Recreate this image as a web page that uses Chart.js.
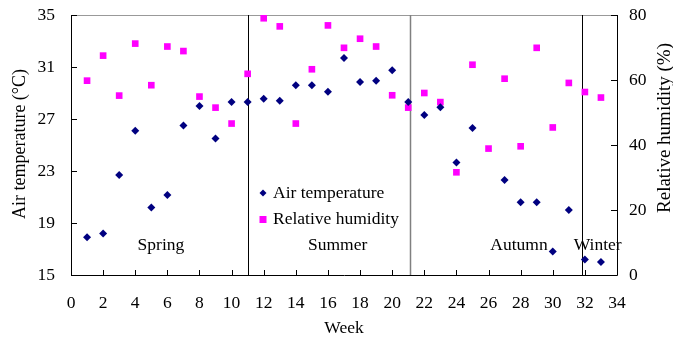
<!DOCTYPE html>
<html>
<head>
<meta charset="utf-8">
<script src="https://cdn.jsdelivr.net/npm/chart.js@4.4.1/dist/chart.umd.min.js"></script>
<style>
  html, body { margin: 0; padding: 0; background: #fff; }
  #chart { display: block; }
</style>
</head>
<body>
<canvas id="chart" width="673" height="338"></canvas>
<script>
// Weekly means, weeks 1..33
const weeks = [1,2,3,4,5,6,7,8,9,10,11,12,13,14,15,16,17,18,19,20,21,22,23,24,25,26,27,28,29,30,31,32,33];
const airTemp = [17.9,18.2,22.7,26.1,20.2,21.15,26.5,28.0,25.5,28.3,28.3,28.55,28.4,29.6,29.6,29.1,31.7,29.85,29.95,30.75,28.3,27.3,27.9,23.65,26.3,null,22.3,20.6,20.6,16.8,20.0,16.2,16.0];
const humidity = [59.8,67.5,55.2,71.2,58.4,70.3,68.9,54.9,51.5,46.6,61.9,79.0,76.5,46.6,63.3,76.8,69.9,72.7,70.3,55.3,51.5,56.0,53.2,31.6,64.7,38.9,60.4,39.6,69.9,45.4,59.1,56.3,54.6];

// Season boundaries (week) and label anchors
const seasonLines = [11, 21.1, 31.85];
const seasonLineColors = ['#000', '#808080', '#000'];
const seasonNames = ['Spring', 'Summer', 'Autumn', 'Winter'];
const seasonLabelWeeks = [5.6, 16.6, 27.9, 32.8];
const seasonLabelTemp = 17.3;

const SERIF = '"Liberation Serif", "Times New Roman", serif';
const FONT = '17.5px ' + SERIF;
const NAVY = '#000080', MAGENTA = '#FF00FF';

function diamond(ctx, x, y, r) {
  ctx.beginPath();
  ctx.moveTo(x, y - r); ctx.lineTo(x + r, y); ctx.lineTo(x, y + r); ctx.lineTo(x - r, y);
  ctx.closePath(); ctx.fill();
}

// fixed box sizes so the plot area lands where it should
function fixBox(size) {
  return s => {
    if (s.isHorizontal()) s.height = size; else s.width = size;
    s.paddingTop = s.paddingBottom = s.paddingLeft = s.paddingRight = 0;
  };
}

function vText(ctx, text, x, y, font) {
  ctx.save();
  ctx.font = font;
  ctx.translate(x, y);
  ctx.rotate(-Math.PI / 2);
  ctx.fillText(text, 0, 0);
  ctx.restore();
}

const decor = {
  id: 'decor',
  beforeDatasetsDraw(chart) {
    const { ctx, chartArea: a, scales: { x, y, y1 } } = chart;
    ctx.save();
    // frame: grey top, black left/bottom/right
    ctx.lineWidth = 1;
    ctx.strokeStyle = '#999';
    ctx.beginPath(); ctx.moveTo(a.left, a.top + 0.5); ctx.lineTo(a.right, a.top + 0.5); ctx.stroke();
    ctx.strokeStyle = '#000';
    ctx.beginPath();
    ctx.moveTo(a.left + 0.5, a.top); ctx.lineTo(a.left + 0.5, a.bottom + 0.5);
    ctx.lineTo(a.right + 0.5, a.bottom + 0.5); ctx.lineTo(a.right + 0.5, a.top);
    ctx.stroke();
    // inward tick marks
    ctx.beginPath();
    x.ticks.forEach(t => { const p = Math.round(x.getPixelForValue(t.value)) + 0.5; ctx.moveTo(p, a.bottom); ctx.lineTo(p, a.bottom - 5); });
    y.ticks.forEach(t => { const p = Math.round(y.getPixelForValue(t.value)) + 0.5; ctx.moveTo(a.left, p); ctx.lineTo(a.left + 6, p); });
    y1.ticks.forEach(t => { const p = Math.round(y1.getPixelForValue(t.value)) + 0.5; ctx.moveTo(a.right, p); ctx.lineTo(a.right - 6, p); });
    ctx.stroke();
    // season dividers
    seasonLines.forEach((w, i) => {
      const p = Math.round(x.getPixelForValue(w)) + 0.5;
      ctx.strokeStyle = seasonLineColors[i];
      ctx.lineWidth = i === 1 ? 1.5 : 1;
      ctx.beginPath(); ctx.moveTo(p, a.top); ctx.lineTo(p, a.bottom); ctx.stroke();
    });
    ctx.restore();
  },
  afterDatasetsDraw(chart) {
    const { ctx, chartArea: a, scales: { x, y } } = chart;
    ctx.save();
    ctx.font = FONT;
    ctx.fillStyle = '#000';
    ctx.textBaseline = 'middle';
    ctx.textAlign = 'center';
    seasonNames.forEach((s, i) => ctx.fillText(s, x.getPixelForValue(seasonLabelWeeks[i]), y.getPixelForValue(seasonLabelTemp)));

    // legend
    const lx = a.left + 192, ly = a.top + 178;
    ctx.fillStyle = NAVY; diamond(ctx, lx, ly, 3.5);
    ctx.fillStyle = MAGENTA; ctx.fillRect(lx - 3.5, ly + 23, 7, 7);
    ctx.fillStyle = '#000';
    ctx.textAlign = 'left';
    ctx.fillText('Air temperature', lx + 10, ly);
    ctx.fillText('Relative humidity', lx + 10, ly + 26.5);

    // axis titles
    ctx.textAlign = 'center';
    ctx.fillText('Week', (a.left + a.right) / 2, 328);
    vText(ctx, 'Air temperature (\u00B0C)', 20, 144, '18px ' + SERIF);
    vText(ctx, 'Relative humidity (%)', 665, 128, '19px ' + SERIF);
    ctx.restore();
  }
};

const tickFont = { family: SERIF, size: 17.5 };

new Chart(document.getElementById('chart'), {
  type: 'scatter',
  data: {
    datasets: [
      { label: 'Air temperature', data: weeks.map((w, i) => ({ x: w, y: airTemp[i] })),
        yAxisID: 'y', pointStyle: 'rectRot', pointRadius: 4, backgroundColor: NAVY, borderWidth: 0 },
      { label: 'Relative humidity', data: weeks.map((w, i) => ({ x: w, y: humidity[i] })),
        yAxisID: 'y1', pointStyle: 'rect', pointRadius: 4.7, backgroundColor: MAGENTA, borderWidth: 0 }
    ]
  },
  options: {
    responsive: false,
    animation: false,
    layout: { padding: { top: 15, left: 0, right: 0, bottom: 0 } },
    plugins: { legend: { display: false }, tooltip: { enabled: false } },
    scales: {
      x: {
        type: 'linear', min: 0, max: 34,
        ticks: { stepSize: 2, color: '#000', font: tickFont, padding: 18, maxRotation: 0 },
        grid: { display: false, drawTicks: false }, border: { display: false },
        afterFit: fixBox(63)
      },
      y: {
        position: 'left', min: 15, max: 35,
        ticks: { stepSize: 4, color: '#000', font: tickFont, padding: 16 },
        grid: { display: false, drawTicks: false }, border: { display: false },
        afterFit: fixBox(71)
      },
      y1: {
        position: 'right', min: 0, max: 80,
        ticks: { stepSize: 20, color: '#000', font: tickFont, padding: 12 },
        grid: { display: false, drawTicks: false }, border: { display: false },
        afterFit: fixBox(56)
      }
    }
  },
  plugins: [decor]
});
</script>
</body>
</html>
